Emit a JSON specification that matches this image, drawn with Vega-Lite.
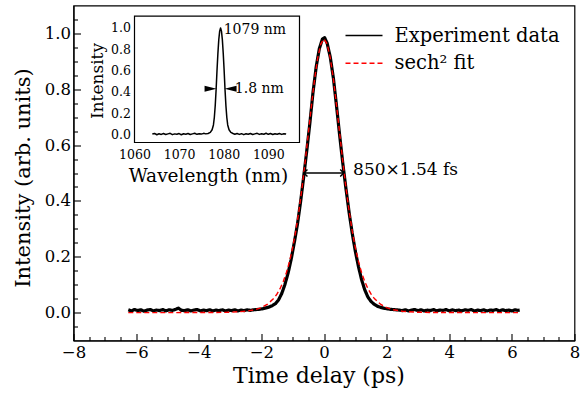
{
  "$schema": "https://vega.github.io/schema/vega-lite/v6.json",
  "padding": {"left": 12.5, "top": 5.5, "right": 2, "bottom": 2},
  "width": 501,
  "height": 335,
  "config": {
    "font": "DejaVu Serif",
    "view": {"stroke": "#000000", "strokeWidth": 1.2},
    "axis": {"grid": false, "domainColor": "#000000", "tickColor": "#000000", "labelColor": "#000000", "titleColor": "#000000", "titleFontWeight": "normal", "labelFont": "DejaVu Serif", "titleFont": "DejaVu Serif", "labelFlush": false, "labelOverlap": false, "domainWidth": 1.2, "tickWidth": 1.1},
    "legend": {"labelFont": "DejaVu Serif", "titleFont": "DejaVu Serif"},
    "text": {"color": "#000000", "font": "DejaVu Serif"}
  },
  "datasets": {
    "lines": [
      {"t": -6.25, "v": 0.010, "s": "Experiment data"}, {"t": -6.15, "v": 0.006, "s": "Experiment data"}, {"t": -6.05, "v": 0.011, "s": "Experiment data"}, {"t": -5.95, "v": 0.007, "s": "Experiment data"}, {"t": -5.85, "v": 0.010, "s": "Experiment data"}, {"t": -5.75, "v": 0.005, "s": "Experiment data"}, {"t": -5.65, "v": 0.009, "s": "Experiment data"}, {"t": -5.55, "v": 0.011, "s": "Experiment data"}, {"t": -5.45, "v": 0.006, "s": "Experiment data"}, {"t": -5.35, "v": 0.009, "s": "Experiment data"}, {"t": -5.25, "v": 0.007, "s": "Experiment data"}, {"t": -5.15, "v": 0.011, "s": "Experiment data"}, {"t": -5.05, "v": 0.006, "s": "Experiment data"}, {"t": -4.95, "v": 0.010, "s": "Experiment data"}, {"t": -4.85, "v": 0.008, "s": "Experiment data"}, {"t": -4.75, "v": 0.011, "s": "Experiment data"}, {"t": -4.65, "v": 0.016, "s": "Experiment data"}, {"t": -4.55, "v": 0.008, "s": "Experiment data"}, {"t": -4.45, "v": 0.007, "s": "Experiment data"}, {"t": -4.35, "v": 0.010, "s": "Experiment data"}, {"t": -4.25, "v": 0.006, "s": "Experiment data"}, {"t": -4.15, "v": 0.009, "s": "Experiment data"}, {"t": -4.05, "v": 0.011, "s": "Experiment data"}, {"t": -3.95, "v": 0.006, "s": "Experiment data"}, {"t": -3.85, "v": 0.009, "s": "Experiment data"}, {"t": -3.75, "v": 0.007, "s": "Experiment data"}, {"t": -3.65, "v": 0.010, "s": "Experiment data"}, {"t": -3.55, "v": 0.006, "s": "Experiment data"}, {"t": -3.45, "v": 0.009, "s": "Experiment data"}, {"t": -3.35, "v": 0.007, "s": "Experiment data"}, {"t": -3.25, "v": 0.010, "s": "Experiment data"}, {"t": -3.15, "v": 0.006, "s": "Experiment data"}, {"t": -3.05, "v": 0.009, "s": "Experiment data"}, {"t": -2.95, "v": 0.007, "s": "Experiment data"}, {"t": -2.85, "v": 0.010, "s": "Experiment data"}, {"t": -2.75, "v": 0.006, "s": "Experiment data"}, {"t": -2.65, "v": 0.009, "s": "Experiment data"}, {"t": -2.55, "v": 0.007, "s": "Experiment data"}, {"t": -2.45, "v": 0.010, "s": "Experiment data"}, {"t": -2.35, "v": 0.008, "s": "Experiment data"},
      {"t": -2.25, "v": 0.010, "s": "Experiment data"}, {"t": -2.15, "v": 0.011, "s": "Experiment data"}, {"t": -2.05, "v": 0.012, "s": "Experiment data"}, {"t": -1.95, "v": 0.014, "s": "Experiment data"}, {"t": -1.85, "v": 0.017, "s": "Experiment data"}, {"t": -1.75, "v": 0.020, "s": "Experiment data"}, {"t": -1.65, "v": 0.025, "s": "Experiment data"}, {"t": -1.55, "v": 0.032, "s": "Experiment data"}, {"t": -1.45, "v": 0.046, "s": "Experiment data"}, {"t": -1.35, "v": 0.068, "s": "Experiment data"}, {"t": -1.25, "v": 0.100, "s": "Experiment data"}, {"t": -1.15, "v": 0.140, "s": "Experiment data"}, {"t": -1.05, "v": 0.190, "s": "Experiment data"}, {"t": -0.95, "v": 0.250, "s": "Experiment data"}, {"t": -0.85, "v": 0.315, "s": "Experiment data"}, {"t": -0.75, "v": 0.395, "s": "Experiment data"}, {"t": -0.65, "v": 0.485, "s": "Experiment data"}, {"t": -0.55, "v": 0.580, "s": "Experiment data"}, {"t": -0.45, "v": 0.680, "s": "Experiment data"}, {"t": -0.35, "v": 0.790, "s": "Experiment data"}, {"t": -0.25, "v": 0.880, "s": "Experiment data"}, {"t": -0.15, "v": 0.945, "s": "Experiment data"}, {"t": -0.05, "v": 0.980, "s": "Experiment data"}, {"t": 0.02, "v": 0.985, "s": "Experiment data"}, {"t": 0.1, "v": 0.965, "s": "Experiment data"}, {"t": 0.2, "v": 0.915, "s": "Experiment data"}, {"t": 0.3, "v": 0.840, "s": "Experiment data"}, {"t": 0.4, "v": 0.740, "s": "Experiment data"}, {"t": 0.5, "v": 0.635, "s": "Experiment data"}, {"t": 0.6, "v": 0.535, "s": "Experiment data"}, {"t": 0.7, "v": 0.445, "s": "Experiment data"}, {"t": 0.8, "v": 0.360, "s": "Experiment data"}, {"t": 0.9, "v": 0.285, "s": "Experiment data"}, {"t": 1.0, "v": 0.220, "s": "Experiment data"}, {"t": 1.1, "v": 0.165, "s": "Experiment data"}, {"t": 1.2, "v": 0.118, "s": "Experiment data"}, {"t": 1.3, "v": 0.082, "s": "Experiment data"}, {"t": 1.4, "v": 0.056, "s": "Experiment data"}, {"t": 1.5, "v": 0.040, "s": "Experiment data"}, {"t": 1.6, "v": 0.030, "s": "Experiment data"}, {"t": 1.7, "v": 0.023, "s": "Experiment data"}, {"t": 1.8, "v": 0.019, "s": "Experiment data"}, {"t": 1.9, "v": 0.016, "s": "Experiment data"}, {"t": 2.0, "v": 0.014, "s": "Experiment data"}, {"t": 2.1, "v": 0.012, "s": "Experiment data"}, {"t": 2.2, "v": 0.011, "s": "Experiment data"}, {"t": 2.3, "v": 0.010, "s": "Experiment data"},
      {"t": 2.4, "v": 0.009, "s": "Experiment data"}, {"t": 2.5, "v": 0.007, "s": "Experiment data"}, {"t": 2.6, "v": 0.010, "s": "Experiment data"}, {"t": 2.7, "v": 0.006, "s": "Experiment data"}, {"t": 2.8, "v": 0.009, "s": "Experiment data"}, {"t": 2.9, "v": 0.011, "s": "Experiment data"}, {"t": 3.0, "v": 0.007, "s": "Experiment data"}, {"t": 3.1, "v": 0.010, "s": "Experiment data"}, {"t": 3.2, "v": 0.006, "s": "Experiment data"}, {"t": 3.3, "v": 0.009, "s": "Experiment data"}, {"t": 3.4, "v": 0.007, "s": "Experiment data"}, {"t": 3.5, "v": 0.011, "s": "Experiment data"}, {"t": 3.6, "v": 0.006, "s": "Experiment data"}, {"t": 3.7, "v": 0.009, "s": "Experiment data"}, {"t": 3.8, "v": 0.008, "s": "Experiment data"}, {"t": 3.9, "v": 0.011, "s": "Experiment data"}, {"t": 4.0, "v": 0.006, "s": "Experiment data"}, {"t": 4.1, "v": 0.010, "s": "Experiment data"}, {"t": 4.2, "v": 0.007, "s": "Experiment data"}, {"t": 4.3, "v": 0.009, "s": "Experiment data"}, {"t": 4.4, "v": 0.006, "s": "Experiment data"}, {"t": 4.5, "v": 0.010, "s": "Experiment data"}, {"t": 4.6, "v": 0.008, "s": "Experiment data"}, {"t": 4.7, "v": 0.011, "s": "Experiment data"}, {"t": 4.8, "v": 0.006, "s": "Experiment data"}, {"t": 4.9, "v": 0.009, "s": "Experiment data"}, {"t": 5.0, "v": 0.007, "s": "Experiment data"}, {"t": 5.1, "v": 0.010, "s": "Experiment data"}, {"t": 5.2, "v": 0.006, "s": "Experiment data"}, {"t": 5.3, "v": 0.009, "s": "Experiment data"}, {"t": 5.4, "v": 0.008, "s": "Experiment data"}, {"t": 5.5, "v": 0.011, "s": "Experiment data"}, {"t": 5.6, "v": 0.006, "s": "Experiment data"}, {"t": 5.7, "v": 0.010, "s": "Experiment data"}, {"t": 5.8, "v": 0.007, "s": "Experiment data"}, {"t": 5.9, "v": 0.009, "s": "Experiment data"}, {"t": 6.0, "v": 0.006, "s": "Experiment data"}, {"t": 6.1, "v": 0.010, "s": "Experiment data"}, {"t": 6.2, "v": 0.008, "s": "Experiment data"}, {"t": 6.25, "v": 0.009, "s": "Experiment data"},
      {"t": -6.25, "v": 0.0, "s": "sech² fit"}, {"t": -5.0, "v": 0.0, "s": "sech² fit"}, {"t": -4.0, "v": 0.0001, "s": "sech² fit"}, {"t": -3.5, "v": 0.0003, "s": "sech² fit"}, {"t": -3.0, "v": 0.0012, "s": "sech² fit"}, {"t": -2.5, "v": 0.0047, "s": "sech² fit"}, {"t": -2.2, "v": 0.0104, "s": "sech² fit"}, {"t": -2.0, "v": 0.0178, "s": "sech² fit"}, {"t": -1.8, "v": 0.0304, "s": "sech² fit"}, {"t": -1.6, "v": 0.0515, "s": "sech² fit"}, {"t": -1.5, "v": 0.0667, "s": "sech² fit"}, {"t": -1.4, "v": 0.0864, "s": "sech² fit"}, {"t": -1.3, "v": 0.1116, "s": "sech² fit"}, {"t": -1.2, "v": 0.1435, "s": "sech² fit"}, {"t": -1.1, "v": 0.1835, "s": "sech² fit"}, {"t": -1.0, "v": 0.2329, "s": "sech² fit"}, {"t": -0.9, "v": 0.2933, "s": "sech² fit"}, {"t": -0.8, "v": 0.3653, "s": "sech² fit"}, {"t": -0.7, "v": 0.4488, "s": "sech² fit"}, {"t": -0.6, "v": 0.5424, "s": "sech² fit"}, {"t": -0.5, "v": 0.6425, "s": "sech² fit"}, {"t": -0.4, "v": 0.7430, "s": "sech² fit"}, {"t": -0.3, "v": 0.8361, "s": "sech² fit"}, {"t": -0.2, "v": 0.9123, "s": "sech² fit"}, {"t": -0.1, "v": 0.9625, "s": "sech² fit"}, {"t": 0.0, "v": 0.98, "s": "sech² fit"}, {"t": 0.1, "v": 0.9625, "s": "sech² fit"}, {"t": 0.2, "v": 0.9123, "s": "sech² fit"}, {"t": 0.3, "v": 0.8361, "s": "sech² fit"}, {"t": 0.4, "v": 0.7430, "s": "sech² fit"}, {"t": 0.5, "v": 0.6425, "s": "sech² fit"}, {"t": 0.6, "v": 0.5424, "s": "sech² fit"}, {"t": 0.7, "v": 0.4488, "s": "sech² fit"}, {"t": 0.8, "v": 0.3653, "s": "sech² fit"}, {"t": 0.9, "v": 0.2933, "s": "sech² fit"}, {"t": 1.0, "v": 0.2329, "s": "sech² fit"}, {"t": 1.1, "v": 0.1835, "s": "sech² fit"}, {"t": 1.2, "v": 0.1435, "s": "sech² fit"}, {"t": 1.3, "v": 0.1116, "s": "sech² fit"}, {"t": 1.4, "v": 0.0864, "s": "sech² fit"}, {"t": 1.5, "v": 0.0667, "s": "sech² fit"}, {"t": 1.6, "v": 0.0515, "s": "sech² fit"}, {"t": 1.8, "v": 0.0304, "s": "sech² fit"}, {"t": 2.0, "v": 0.0178, "s": "sech² fit"}, {"t": 2.2, "v": 0.0104, "s": "sech² fit"}, {"t": 2.5, "v": 0.0047, "s": "sech² fit"}, {"t": 3.0, "v": 0.0012, "s": "sech² fit"}, {"t": 3.5, "v": 0.0003, "s": "sech² fit"}, {"t": 4.0, "v": 0.0001, "s": "sech² fit"}, {"t": 5.0, "v": 0.0, "s": "sech² fit"}, {"t": 6.25, "v": 0.0, "s": "sech² fit"}
    ],
    "fwhm": [{"a": -0.64, "b": 0.63, "v": 0.5}],
    "heads": [{"t": -0.64, "v": 0.5, "d": "L"}, {"t": 0.63, "v": 0.5, "d": "R"}],
    "mainText": [{"t": 0.93, "v": 0.51, "label": "850×1.54 fs"}],
    "insetBox": [{"w1": 1060, "w2": 1097, "v1": -0.075, "v2": 1.11}],
    "spec": [
      {"w": 1064.0, "v": 0.004}, {"w": 1064.5, "v": 0.010}, {"w": 1065.0, "v": -0.002}, {"w": 1065.5, "v": 0.007}, {"w": 1066.0, "v": 0.001}, {"w": 1066.5, "v": 0.009}, {"w": 1067.0, "v": 0.000}, {"w": 1067.5, "v": 0.006}, {"w": 1068.0, "v": 0.011}, {"w": 1068.5, "v": -0.001}, {"w": 1069.0, "v": 0.006}, {"w": 1069.5, "v": 0.002}, {"w": 1070.0, "v": 0.009}, {"w": 1070.5, "v": -0.002}, {"w": 1071.0, "v": 0.007}, {"w": 1071.5, "v": 0.003}, {"w": 1072.0, "v": 0.010}, {"w": 1072.5, "v": 0.000}, {"w": 1073.0, "v": 0.006}, {"w": 1073.5, "v": 0.012}, {"w": 1074.0, "v": 0.002}, {"w": 1074.5, "v": 0.008}, {"w": 1075.0, "v": 0.004}, {"w": 1075.5, "v": 0.011}, {"w": 1076.0, "v": 0.006}, {"w": 1076.5, "v": 0.010},
      {"w": 1077.0, "v": 0.02}, {"w": 1077.4, "v": 0.045}, {"w": 1077.7, "v": 0.09}, {"w": 1077.9, "v": 0.16}, {"w": 1078.1, "v": 0.27}, {"w": 1078.3, "v": 0.42}, {"w": 1078.5, "v": 0.60}, {"w": 1078.7, "v": 0.76}, {"w": 1078.9, "v": 0.89}, {"w": 1079.1, "v": 0.97}, {"w": 1079.3, "v": 1.0}, {"w": 1079.5, "v": 0.97}, {"w": 1079.7, "v": 0.89}, {"w": 1079.9, "v": 0.76}, {"w": 1080.1, "v": 0.60}, {"w": 1080.3, "v": 0.42}, {"w": 1080.5, "v": 0.27}, {"w": 1080.7, "v": 0.16}, {"w": 1080.9, "v": 0.09}, {"w": 1081.2, "v": 0.045}, {"w": 1081.6, "v": 0.02}, {"w": 1082.1, "v": 0.01},
      {"w": 1082.5, "v": 0.003}, {"w": 1083.0, "v": 0.009}, {"w": 1083.5, "v": 0.001}, {"w": 1084.0, "v": 0.008}, {"w": 1084.5, "v": -0.001}, {"w": 1085.0, "v": 0.007}, {"w": 1085.5, "v": 0.002}, {"w": 1086.0, "v": 0.010}, {"w": 1086.5, "v": 0.000}, {"w": 1087.0, "v": 0.006}, {"w": 1087.5, "v": 0.011}, {"w": 1088.0, "v": 0.001}, {"w": 1088.5, "v": 0.008}, {"w": 1089.0, "v": 0.003}, {"w": 1089.5, "v": 0.012}, {"w": 1090.0, "v": 0.002}, {"w": 1090.5, "v": 0.009}, {"w": 1091.0, "v": 0.000}, {"w": 1091.5, "v": 0.007}, {"w": 1092.0, "v": 0.003}, {"w": 1092.5, "v": 0.010}, {"w": 1093.0, "v": 0.001}, {"w": 1093.5, "v": 0.008}, {"w": 1094.0, "v": 0.004}
    ],
    "tri": [{"w": 1078.4, "v": 0.43, "d": "R"}, {"w": 1080.2, "v": 0.43, "d": "L"}],
    "insetText": [{"w": 1080.0, "v": 0.985, "label": "1079 nm"}, {"w": 1082.5, "v": 0.43, "label": "1.8 nm"}]
  },
  "layer": [
    {
      "layer": [
        {
          "data": {"name": "lines"},
          "mark": {"type": "line", "strokeJoin": "round"},
          "encoding": {
            "x": {"field": "t", "type": "quantitative", "scale": {"domain": [-8, 8], "nice": false, "zero": false},
                  "axis": {"values": [-8, -6, -4, -2, 0, 2, 4, 6, 8], "format": "d", "title": "Time delay (ps)", "titleX": 245, "tickSize": -7, "labelPadding": 11, "labelFont": "DejaVu Serif", "titleFont": "DejaVu Serif", "labelFontSize": 16.5, "titleFontSize": 22, "titlePadding": 4}},
            "y": {"field": "v", "type": "quantitative", "scale": {"domain": [-0.1, 1.1], "nice": false, "zero": false},
                  "axis": {"values": [0, 0.2, 0.4, 0.6, 0.8, 1.0], "format": ".1f", "title": "Intensity (arb. units)", "titleY": 172, "tickSize": -7, "labelPadding": 10, "labelFont": "DejaVu Serif", "titleFont": "DejaVu Serif", "labelFontSize": 16.5, "titleFontSize": 21, "titlePadding": 10.5}},
            "color": {"field": "s", "type": "nominal", "scale": {"domain": ["Experiment data", "sech² fit"], "range": ["#000000", "#ff0000"]},
                      "legend": {"title": null, "orient": "none", "legendX": 271, "legendY": 20.5, "symbolType": "stroke", "symbolSize": 1369, "symbolStrokeWidth": 1.6, "clipHeight": 19, "labelFont": "DejaVu Serif", "labelFontSize": 19.5, "labelOffset": 11, "rowPadding": 7.7, "labelLimit": 0, "labelColor": "#000000"}},
            "strokeDash": {"field": "s", "type": "nominal", "scale": {"domain": ["Experiment data", "sech² fit"], "range": [[1, 0], [5, 3]]},
                      "legend": {"title": null, "orient": "none", "legendX": 271, "legendY": 20.5, "symbolType": "stroke", "symbolSize": 1369, "symbolStrokeWidth": 1.6, "clipHeight": 19, "labelFont": "DejaVu Serif", "labelFontSize": 19.5, "labelOffset": 11, "rowPadding": 7.7, "labelLimit": 0, "labelColor": "#000000"}},
            "strokeWidth": {"condition": {"test": "datum.s === 'Experiment data'", "value": 3.2}, "value": 1.4}
          }
        },
        {
          "data": {"name": "fwhm"},
          "mark": {"type": "rule", "color": "#000000", "strokeWidth": 1.5},
          "encoding": {
            "x": {"field": "a", "type": "quantitative"},
            "x2": {"field": "b"},
            "y": {"field": "v", "type": "quantitative"}
          }
        },
        {
          "data": {"name": "heads"},
          "transform": [{"filter": "datum.d === 'L'"}],
          "mark": {"type": "point", "filled": false, "color": "#000000", "strokeWidth": 1.5, "size": 49, "opacity": 1, "shape": "M1,-1L0,0L1,1"},
          "encoding": {
            "x": {"field": "t", "type": "quantitative"},
            "y": {"field": "v", "type": "quantitative"}
          }
        },
        {
          "data": {"name": "heads"},
          "transform": [{"filter": "datum.d === 'R'"}],
          "mark": {"type": "point", "filled": false, "color": "#000000", "strokeWidth": 1.5, "size": 49, "opacity": 1, "shape": "M-1,-1L0,0L-1,1"},
          "encoding": {
            "x": {"field": "t", "type": "quantitative"},
            "y": {"field": "v", "type": "quantitative"}
          }
        },
        {
          "data": {"name": "mainText"},
          "mark": {"type": "text", "align": "left", "baseline": "middle", "fontSize": 17, "color": "#000000", "font": "DejaVu Serif"},
          "encoding": {
            "x": {"field": "t", "type": "quantitative"},
            "y": {"field": "v", "type": "quantitative"},
            "text": {"field": "label"}
          }
        }
      ]
    },
    {
      "data": {"name": "lines"},
      "mark": {"type": "point", "opacity": 0},
      "encoding": {
        "x": {"field": "t", "type": "quantitative", "scale": {"domain": [-8, 8], "nice": false, "zero": false},
              "axis": {"orient": "bottom", "values": [-7.5, -7, -6.5, -5.5, -5, -4.5, -3.5, -3, -2.5, -1.5, -1, -0.5, 0.5, 1, 1.5, 2.5, 3, 3.5, 4.5, 5, 5.5, 6.5, 7, 7.5], "labels": false, "domain": false, "tickSize": -4, "title": null}},
        "y": {"field": "v", "type": "quantitative", "scale": {"domain": [-0.1, 1.1], "nice": false, "zero": false},
              "axis": {"orient": "left", "values": [-0.05, 0.05, 0.1, 0.15, 0.25, 0.3, 0.35, 0.45, 0.5, 0.55, 0.65, 0.7, 0.75, 0.85, 0.9, 0.95, 1.05], "labels": false, "domain": false, "tickSize": -4, "title": null}}
      }
    },
    {
      "layer": [
        {
          "data": {"name": "insetBox"},
          "mark": {"type": "rect", "fill": "#ffffff", "stroke": "#000000", "strokeWidth": 1.2},
          "encoding": {
            "x": {"field": "w1", "type": "quantitative", "scale": {"domain": [1046.321, 1158.666], "nice": false, "zero": false},
                  "axis": {"orient": "bottom", "offset": -198, "domain": false, "values": [1060, 1070, 1080, 1090], "format": "d", "title": "Wavelength (nm)", "titleX": 134.5, "tickSize": -5, "labelPadding": 11, "labelFont": "DejaVu Serif", "titleFont": "DejaVu Serif", "labelFontSize": 12.5, "titleFontSize": 18.5, "titlePadding": 5}},
            "x2": {"field": "w2"},
            "y": {"field": "v1", "type": "quantitative", "scale": {"domain": [-1.9324, 1.2104], "nice": false, "zero": false},
                  "axis": {"orient": "left", "offset": -61, "domain": false, "values": [0, 0.2, 0.4, 0.6, 0.8, 1.0], "format": ".1f", "title": "Intensity", "titleY": 75, "tickSize": -5, "labelPadding": 9, "labelFont": "DejaVu Serif", "titleFont": "DejaVu Serif", "labelFontSize": 12.5, "titleFontSize": 17, "titlePadding": 4}},
            "y2": {"field": "v2"}
          }
        },
        {
          "data": {"name": "spec"},
          "mark": {"type": "line", "color": "#000000", "strokeWidth": 1.5, "strokeJoin": "round"},
          "encoding": {
            "x": {"field": "w", "type": "quantitative"},
            "y": {"field": "v", "type": "quantitative"}
          }
        },
        {
          "data": {"name": "tri"},
          "transform": [{"filter": "datum.d === 'R'"}],
          "mark": {"type": "point", "filled": true, "color": "#000000", "opacity": 1, "size": 576, "shape": "M-1,-0.25L0,0L-1,0.25Z"},
          "encoding": {
            "x": {"field": "w", "type": "quantitative"},
            "y": {"field": "v", "type": "quantitative"}
          }
        },
        {
          "data": {"name": "tri"},
          "transform": [{"filter": "datum.d === 'L'"}],
          "mark": {"type": "point", "filled": true, "color": "#000000", "opacity": 1, "size": 576, "shape": "M1,-0.25L0,0L1,0.25Z"},
          "encoding": {
            "x": {"field": "w", "type": "quantitative"},
            "y": {"field": "v", "type": "quantitative"}
          }
        },
        {
          "data": {"name": "insetText"},
          "mark": {"type": "text", "align": "left", "baseline": "middle", "fontSize": 14, "color": "#000000", "font": "DejaVu Serif"},
          "encoding": {
            "x": {"field": "w", "type": "quantitative"},
            "y": {"field": "v", "type": "quantitative"},
            "text": {"field": "label"}
          }
        }
      ]
    },
    {
      "data": {"name": "spec"},
      "mark": {"type": "point", "opacity": 0},
      "encoding": {
        "x": {"field": "w", "type": "quantitative", "scale": {"domain": [1046.321, 1158.666], "nice": false, "zero": false},
              "axis": {"orient": "bottom", "offset": -198, "values": [1062, 1064, 1066, 1068, 1072, 1074, 1076, 1078, 1082, 1084, 1086, 1088, 1092, 1094, 1096], "labels": false, "domain": false, "tickSize": -2.5, "title": null}},
        "y": {"field": "v", "type": "quantitative", "scale": {"domain": [-1.9324, 1.2104], "nice": false, "zero": false},
              "axis": {"orient": "left", "offset": -61, "values": [-0.05, 0.05, 0.1, 0.15, 0.25, 0.3, 0.35, 0.45, 0.5, 0.55, 0.65, 0.7, 0.75, 0.85, 0.9, 0.95, 1.05], "labels": false, "domain": false, "tickSize": -2.5, "title": null}}
      }
    }
  ],
  "resolve": {"scale": {"x": "independent", "y": "independent"}, "axis": {"x": "independent", "y": "independent"}}
}
